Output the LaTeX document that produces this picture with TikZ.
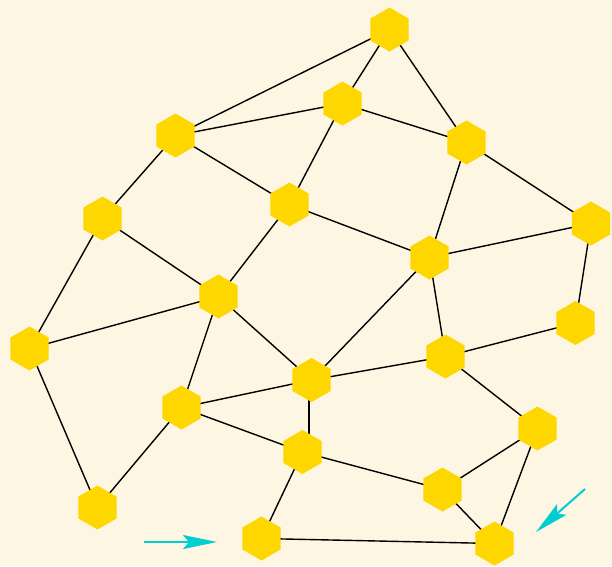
\documentclass[tikz,border=0pt]{standalone}
\usetikzlibrary{shapes.geometric,arrows.meta}
\definecolor{bg}{HTML}{FDF6E3}
\definecolor{hexfill}{HTML}{FFD700}
\definecolor{arrowcol}{HTML}{00CED1}
\pgfdeclarelayer{bglayer}
\pgfdeclarelayer{edgelayer}
\pgfsetlayers{bglayer,edgelayer,main}
\begin{document}
\begin{tikzpicture}[x=1pt,y=-1pt,
  hexnode/.style={regular polygon,regular polygon sides=6,shape border rotate=30,
    minimum size=44pt,inner sep=0pt,fill=hexfill,draw=none},
  edge/.style={line width=1.4pt,black},
  pointer/.style={line width=2pt,arrowcol,-{Stealth[length=34pt,width=14pt,inset=6pt]}}]
\begin{pgfonlayer}{bglayer}
\fill[bg] (0,0) rectangle (612,566);
\end{pgfonlayer}
\useasboundingbox (0,0) rectangle (612,566);
\node[hexnode] (n1) at (389.5,29.5) {};
\node[hexnode] (n2) at (342.5,103.5) {};
\node[hexnode] (n3) at (175.5,135.5) {};
\node[hexnode] (n4) at (466.5,142.5) {};
\node[hexnode] (n5) at (289.5,204.5) {};
\node[hexnode] (n6) at (102.5,218.5) {};
\node[hexnode] (n7) at (591,223.5) {};
\node[hexnode] (n8) at (429.5,257.5) {};
\node[hexnode] (n9) at (218.5,296.5) {};
\node[hexnode] (n10) at (29.5,348.5) {};
\node[hexnode] (n11) at (575.5,323) {};
\node[hexnode] (n12) at (445.5,356.5) {};
\node[hexnode] (n13) at (311.5,380) {};
\node[hexnode] (n14) at (181.5,407.5) {};
\node[hexnode] (n15) at (537.5,428.5) {};
\node[hexnode] (n16) at (302.5,452) {};
\node[hexnode] (n17) at (442.5,489.5) {};
\node[hexnode] (n18) at (97.5,507.5) {};
\node[hexnode] (n19) at (261.5,538.5) {};
\node[hexnode] (n20) at (494.5,543.5) {};
\begin{pgfonlayer}{edgelayer}
\foreach \a/\b in {n1/n3,n1/n2,n1/n4,n3/n2,n2/n4,n2/n5,n3/n5,n3/n6,n4/n8,n4/n7,
  n5/n8,n5/n9,n6/n9,n6/n10,n8/n7,n7/n11,n8/n12,n8/n13,n9/n10,n9/n13,n9/n14,
  n11/n12,n12/n13,n12/n15,n13/n14,n14/n18,n10/n18,n14/n16,n16/n17,
  n16/n19,n15/n17,n15/n20,n17/n20,n19/n20}
  \draw[edge] (\a.center) -- (\b.center);
\draw[edge] ([xshift=-2.5pt]n13.center) -- ([xshift=-2.5pt]n13.center |- n16.center);
\end{pgfonlayer}
\coordinate (p1s) at (144,542);
\coordinate (p1e) at (217,542);
\coordinate (p2s) at (585,489);
\coordinate (p2e) at (536,532);
\draw[pointer] (p1s) -- (p1e);
\draw[pointer] (p2s) -- (p2e);
\end{tikzpicture}
\end{document}
